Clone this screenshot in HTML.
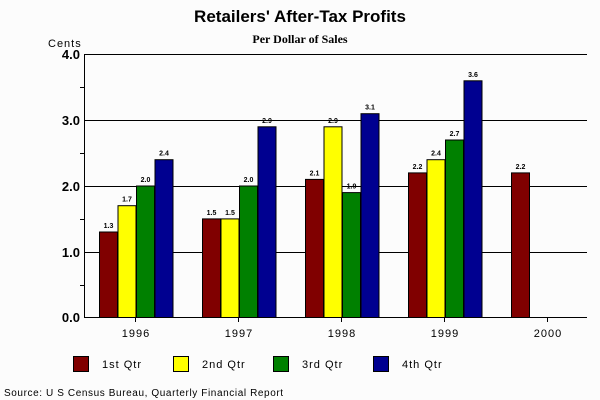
<!DOCTYPE html><html><head><style>body{margin:0;background:#fcfcfc}</style></head><body>
<svg width="600" height="400" xmlns="http://www.w3.org/2000/svg" style="display:block;background:#fcfcfc">
<text x="300" y="22" text-anchor="middle" font-family="Liberation Sans,sans-serif" font-weight="bold" font-size="17">Retailers' After-Tax Profits</text>
<text x="300" y="43" text-anchor="middle" font-family="Liberation Serif,serif" font-weight="bold" font-size="12">Per Dollar of Sales</text>
<text x="48" y="47" font-family="Liberation Sans,sans-serif" font-size="11" letter-spacing="1">Cents</text>
<g stroke="#000" stroke-width="1">
<line x1="84" y1="54.5" x2="587" y2="54.5"/><line x1="84" y1="120.5" x2="587" y2="120.5"/><line x1="84" y1="186.5" x2="587" y2="186.5"/><line x1="84" y1="252.5" x2="587" y2="252.5"/><line x1="84" y1="317.5" x2="587" y2="317.5"/>
<line x1="84.5" y1="54" x2="84.5" y2="318"/>
<line x1="80" y1="87.5" x2="84" y2="87.5"/><line x1="80" y1="153.5" x2="84" y2="153.5"/><line x1="80" y1="219.5" x2="84" y2="219.5"/><line x1="80" y1="285.5" x2="84" y2="285.5"/>
<line x1="135.5" y1="318" x2="135.5" y2="322"/><line x1="238.5" y1="318" x2="238.5" y2="322"/><line x1="341.5" y1="318" x2="341.5" y2="322"/><line x1="444.5" y1="318" x2="444.5" y2="322"/><line x1="547.5" y1="318" x2="547.5" y2="322"/>
</g>
<g font-family="Liberation Sans,sans-serif" font-weight="bold" font-size="13" text-anchor="end">
<text x="80" y="59">4.0</text><text x="80" y="125">3.0</text><text x="80" y="191">2.0</text><text x="80" y="257">1.0</text><text x="80" y="322">0.0</text></g>
<g font-family="Liberation Sans,sans-serif" font-size="11" text-anchor="middle" letter-spacing="1">
<text x="136" y="337">1996</text><text x="239" y="337">1997</text><text x="342" y="337">1998</text><text x="445" y="337">1999</text><text x="548" y="337">2000</text></g>
<g stroke="#000" stroke-width="1">
<rect x="99.5" y="232" width="18" height="85.5" fill="#800000"/>
<rect x="118" y="205.7" width="18" height="111.8" fill="#ffff00"/>
<rect x="136.5" y="186" width="18" height="131.5" fill="#008000"/>
<rect x="155" y="159.7" width="18" height="157.8" fill="#000090"/>
<rect x="202.5" y="218.9" width="18" height="98.6" fill="#800000"/>
<rect x="221" y="218.9" width="18" height="98.6" fill="#ffff00"/>
<rect x="239.5" y="186" width="18" height="131.5" fill="#008000"/>
<rect x="258" y="126.8" width="18" height="190.7" fill="#000090"/>
<rect x="305.5" y="179.4" width="18" height="138.1" fill="#800000"/>
<rect x="324" y="126.8" width="18" height="190.7" fill="#ffff00"/>
<rect x="342.5" y="192.6" width="18" height="124.9" fill="#008000"/>
<rect x="361" y="113.7" width="18" height="203.8" fill="#000090"/>
<rect x="408.5" y="172.9" width="18" height="144.6" fill="#800000"/>
<rect x="427" y="159.7" width="18" height="157.8" fill="#ffff00"/>
<rect x="445.5" y="140" width="18" height="177.5" fill="#008000"/>
<rect x="464" y="80.8" width="18" height="236.7" fill="#000090"/>
<rect x="511.5" y="172.9" width="18" height="144.6" fill="#800000"/>
</g>
<g font-family="Liberation Sans,sans-serif" font-size="7" font-weight="bold" text-anchor="middle">
<text x="108.5" y="228">1.3</text><text x="127" y="201.7">1.7</text><text x="145.5" y="182">2.0</text><text x="164" y="155.7">2.4</text>
<text x="211.5" y="214.9">1.5</text><text x="230" y="214.9">1.5</text><text x="248.5" y="182">2.0</text><text x="267" y="122.8">2.9</text>
<text x="314.5" y="175.4">2.1</text><text x="333" y="122.8">2.9</text><text x="351.5" y="188.6">1.9</text><text x="370" y="109.7">3.1</text>
<text x="417.5" y="168.9">2.2</text><text x="436" y="155.7">2.4</text><text x="454.5" y="136">2.7</text><text x="473" y="76.8">3.6</text>
<text x="520.5" y="168.9">2.2</text>
</g>
<g stroke="#000"><rect x="73.5" y="356.5" width="15" height="15" fill="#800000"/><rect x="173.5" y="356.5" width="15" height="15" fill="#ffff00"/><rect x="273.5" y="356.5" width="15" height="15" fill="#008000"/><rect x="373.5" y="356.5" width="15" height="15" fill="#000090"/></g>
<g font-family="Liberation Sans,sans-serif" font-size="11" letter-spacing="1">
<text x="102" y="368">1st Qtr</text><text x="202" y="368">2nd Qtr</text><text x="302" y="368">3rd Qtr</text><text x="402" y="368">4th Qtr</text></g>
<text x="4" y="396" font-family="Liberation Sans,sans-serif" font-size="10" letter-spacing="0.6">Source: U S Census Bureau, Quarterly Financial Report</text>
</svg></body></html>
